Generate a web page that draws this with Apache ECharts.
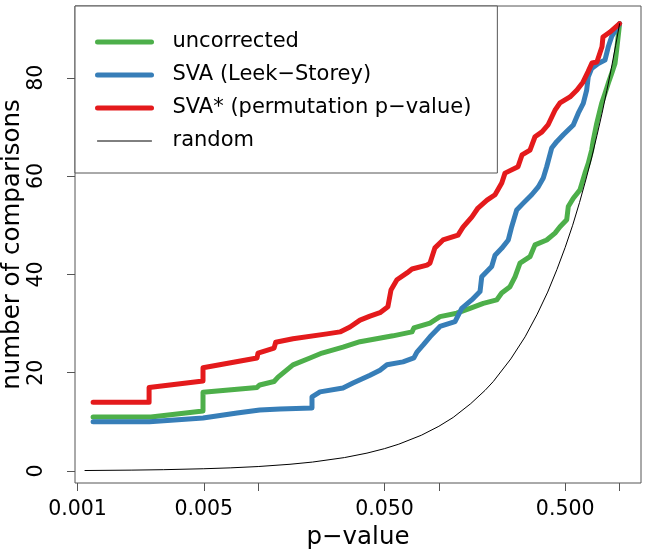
<!DOCTYPE html>
<html>
<head>
<meta charset="utf-8">
<script src="https://cdn.jsdelivr.net/npm/echarts@6/dist/echarts.min.js"></script>
<style>
	body { margin: 0; background: #fff; }
</style>
</head>
<body>
<div id="chart1" style="width: 648px; height: 557px"></div>

<script>
	// axis ticks (p-values) and labels
	const xTicks = [0.001, 0.005, 0.01, 0.05, 0.1, 0.5, 1];
	const xLabels = [0.001, 0.005, 0.05, 0.5];
	const yTicks = [0, 20, 40, 60, 80];

	const seriesNames = ['uncorrected', 'SVA (Leek\u2212Storey)', 'SVA* (permutation p\u2212value)', 'random'];

	// uncorrected (green)
	const uncorrP = [0.00122, 0.00255, 0.00495, 0.00495, 0.00985, 0.0102, 0.01224, 0.01288, 0.01558, 0.01935,
		0.02255, 0.02946, 0.03659, 0.0557, 0.071, 0.0727, 0.0893, 0.1014, 0.1255, 0.1486,
		0.1761, 0.2089, 0.2226, 0.2475, 0.2638, 0.2811, 0.3193, 0.3403, 0.395, 0.4391,
		0.468, 0.5098, 0.5202, 0.5544, 0.6037, 0.6433, 0.671, 0.7008, 0.7153, 0.7469,
		0.7789, 0.7959, 0.8301, 0.8659, 0.9043, 0.9433, 0.9638, 1.0];
	const uncorrN = [11, 11, 12.2, 16, 17, 17.5, 18.2, 19.1, 21.6, 23,
		24, 25.2, 26.3, 27.5, 28.3, 29.1, 30.1, 31.4, 32.1, 33.1,
		34.1, 34.8, 36.2, 37.5, 39.5, 42.3, 43.6, 46, 47, 48.4,
		49.7, 51.1, 53.8, 55.5, 57.2, 60.6, 62.6, 65.3, 67.3, 70.7,
		73.4, 74.8, 76.8, 78.9, 80.9, 82.9, 85.7, 91];

	// SVA Leek-Storey (blue)
	const svaP = [0.00122, 0.0025, 0.00495, 0.00764, 0.0102, 0.0132, 0.01985, 0.01985, 0.02198, 0.02946,
		0.03346, 0.04157, 0.0472, 0.0516, 0.0633, 0.0727, 0.0756, 0.0817, 0.0893, 0.1014,
		0.1228, 0.1338, 0.1519, 0.1689, 0.1726, 0.196, 0.2045, 0.2226, 0.2422, 0.2529,
		0.2695, 0.2932, 0.3263, 0.3549, 0.3782, 0.395, 0.4209, 0.4487, 0.4881, 0.5544,
		0.5907, 0.6296, 0.6574, 0.671, 0.7008, 0.7622, 0.8301, 0.8659, 0.9043, 1.0];
	const svaN = [10, 10, 10.8, 11.8, 12.4, 12.6, 12.8, 15.1, 16.1, 16.9,
		17.9, 19.5, 20.5, 21.6, 22.2, 23, 24.2, 25.6, 27.3, 29.4,
		30.4, 33.1, 34.8, 36.5, 39.5, 41.6, 43.9, 45.3, 47, 49.7,
		53.1, 54.5, 56.2, 57.8, 59.6, 61.9, 65.7, 67, 68.4, 70.4,
		72.8, 74.8, 77.5, 80.2, 81.9, 82.9, 83.6, 86.3, 88.4, 91];

	// SVA* permutation p-value (red)
	const permP = [0.00122, 0.00249, 0.00249, 0.00495, 0.00495, 0.00985, 0.00998, 0.01224, 0.0125, 0.01558,
		0.02403, 0.02836, 0.03221, 0.03659, 0.04157, 0.0472, 0.0522, 0.0543, 0.0586, 0.0666,
		0.071, 0.0859, 0.0893, 0.0951, 0.1054, 0.1276, 0.136, 0.1524, 0.1646, 0.1846,
		0.2045, 0.2228, 0.2322, 0.274, 0.2884, 0.3193, 0.3403, 0.372, 0.4016, 0.4391,
		0.468, 0.5316, 0.5811, 0.6272, 0.6684, 0.7032, 0.749, 0.7991, 0.8092, 0.8849, 1.0];
	const permN = [14, 14, 17, 18.3, 21, 23, 24, 25, 26.2, 26.9,
		27.9, 28.3, 29.3, 30.7, 31.5, 32.2, 33.4, 36.8, 38.9, 40.3,
		41.1, 41.9, 42.3, 45.4, 47, 48, 49.6, 51.7, 53.5, 55.1,
		56.2, 58.6, 60.6, 61.9, 64.3, 65.3, 68, 69, 70.4, 73.4,
		74.9, 76.1, 77.5, 79.1, 81.2, 83, 83.2, 86.3, 88.3, 89.3, 91];

	// random (black)
	const randP = [0.0011, 0.002, 0.003, 0.005, 0.007, 0.01, 0.015, 0.02, 0.03, 0.04,
		0.05, 0.06, 0.08, 0.1, 0.12, 0.15, 0.18, 0.2, 0.25, 0.3,
		0.35, 0.4, 0.45, 0.5, 0.55, 0.6, 0.65, 0.7, 0.75, 0.8,
		0.85, 0.9, 0.95, 1.0];
	const randN = [0.1, 0.18, 0.27, 0.46, 0.64, 0.91, 1.37, 1.82, 2.73, 3.64,
		4.55, 5.46, 7.28, 9.1, 10.9, 13.7, 16.4, 18.2, 22.8, 27.3,
		31.9, 36.4, 41, 45.5, 50, 54.6, 59.2, 63.7, 68.3, 72.8,
		77.4, 81.9, 86.5, 91];

	const colors = ['#4DAF4A', '#377EB8', '#E41A1C', '#000000'];
	const font = 'DejaVu Sans';

	// x axis works on log10(p)
	function pts(p, n) {
		return p.map((v, i) => [Math.log10(v), n[i]]);
	}

	function lineSeries(name, data, color, width) {
		return {
			name: name,
			type: 'line',
			data: data,
			symbol: 'none',
			smooth: false,
			lineStyle: { color: color, width: width, cap: 'round', join: 'round' },
			itemStyle: { color: 'rgba(0,0,0,0)' },
			z: 2
		};
	}

	var chart1 = echarts.init(document.getElementById('chart1'));

	var chart1_option = {
		animation: false,
		backgroundColor: '#fff',
		grid: {
			left: 75, right: 7, top: 6, bottom: 74,
			containLabel: false,
			outerBoundsMode: 'none',
			show: true, borderColor: '#555', borderWidth: 1
		},
		legend: {
			orient: 'vertical',
			left: 75, top: 6,
			padding: [25, 26, 21, 20],
			borderColor: '#555', borderWidth: 1,
			backgroundColor: '#fff',
			itemWidth: 54, itemHeight: 22, itemGap: 11,
			data: seriesNames,
			lineStyle: { width: 'inherit', cap: 'round' },
			textStyle: {
				fontFamily: font, fontSize: 21, color: '#000',
				lineHeight: 22, padding: [0, 0, 0, 16]
			}
		},
		xAxis: [{
			type: 'value',
			min: -3.0138,
			max: 0.1185,
			name: 'p\u2212value',
			nameLocation: 'middle',
			nameGap: 42,
			nameMoveOverlap: false,
			nameTextStyle: { fontFamily: font, fontSize: 24.5, color: '#000' },
			axisLine: { show: false, onZero: false },
			splitLine: { show: false },
			axisTick: {
				show: true, inside: false, length: 8,
				lineStyle: { color: '#555' },
				customValues: xTicks.map(Math.log10)
			},
			axisLabel: {
				margin: 16,
				fontFamily: font, fontSize: 20.5, color: '#000',
				customValues: xLabels.map(Math.log10),
				formatter: v => Math.pow(10, v).toFixed(3)
			}
		}],
		yAxis: [{
			type: 'value',
			min: -2.44,
			max: 94.6,
			name: 'number of comparisons',
			nameLocation: 'middle',
			nameGap: 50,
			nameMoveOverlap: false,
			nameTextStyle: { fontFamily: font, fontSize: 24.5, color: '#000' },
			axisLine: { show: false, onZero: false },
			splitLine: { show: false },
			axisTick: {
				show: true, inside: false, length: 8,
				lineStyle: { color: '#555' },
				customValues: yTicks
			},
			axisLabel: {
				margin: 28,
				rotate: 90,
				fontFamily: font, fontSize: 20.5, color: '#000',
				customValues: yTicks
			}
		}],
		series: [
			lineSeries(seriesNames[0], pts(uncorrP, uncorrN), colors[0], 5),
			lineSeries(seriesNames[1], pts(svaP, svaN), colors[1], 5),
			lineSeries(seriesNames[2], pts(permP, permN), colors[2], 5),
			lineSeries(seriesNames[3], pts(randP, randN), colors[3], 1)
		]
	};

	chart1.setOption(chart1_option);
</script>
</body>
</html>
